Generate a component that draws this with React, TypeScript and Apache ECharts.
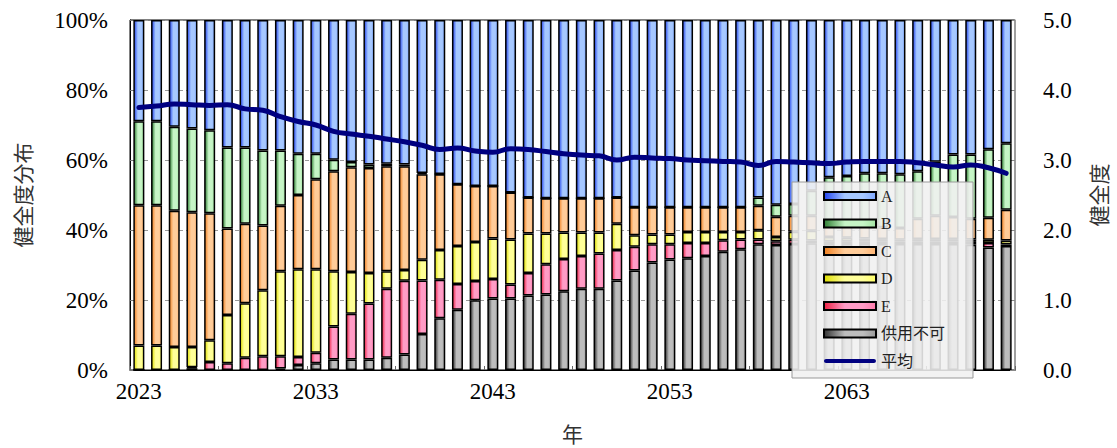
import React, { useEffect, useRef } from "react";
import * as echarts from "echarts";

const years: string[] = [];
for (let y = 2023; y <= 2072; y++) years.push(String(y));

const serUnusable = [0, 0, 0, 0.5, 0, 0, 0, 0, 0.4, 1.4, 1.9, 3.0, 3.0, 3.0, 3.5, 4.4, 10.3, 14.8, 17.2, 19.9, 20.4, 20.4, 21.3, 21.6, 22.5, 23.2, 23.2, 25.6, 28.4, 30.7, 31.6, 31.9, 32.6, 33.8, 34.5, 35.9, 35.7, 36.0, 36.2, 36.0, 36.0, 36.0, 36.0, 36.0, 36.0, 36.0, 36.0, 35.8, 35.0, 35.4];
const serE = [0, 0, 0, 0.3, 2.3, 1.9, 3.5, 3.9, 3.5, 2.3, 3.0, 9.4, 13.1, 16.0, 19.7, 21.1, 15.3, 11.0, 7.4, 5.5, 5.6, 4.0, 6.4, 8.6, 9.2, 9.4, 10.1, 8.7, 6.8, 5.2, 4.3, 4.4, 3.7, 3.3, 2.8, 1.4, 1.1, 1.2, 0.8, 0.8, 0.8, 0.8, 0.8, 0.7, 0.7, 0.7, 0.7, 0.8, 1.3, 0.5];
const serD = [7.0, 7.0, 6.6, 5.8, 6.2, 13.8, 15.6, 18.9, 24.3, 25.1, 23.9, 15.8, 11.9, 8.7, 5.0, 3.1, 5.9, 8.5, 10.8, 11.2, 11.6, 12.9, 11.3, 8.8, 7.6, 6.7, 6.0, 7.5, 3.3, 2.8, 2.8, 3.1, 3.1, 2.3, 2.1, 2.6, 1.2, 2.3, 2.8, 1.2, 1.0, 0.8, 0.6, 0.5, 0.7, 0.7, 0.7, 0.7, 0.9, 1.1];
const serC = [40.1, 40.1, 38.9, 38.5, 36.3, 24.7, 22.7, 18.5, 18.7, 21.2, 25.7, 28.6, 29.9, 30.0, 30.0, 29.6, 24.4, 21.6, 17.7, 16.0, 15.0, 13.4, 10.3, 10.1, 9.8, 9.8, 9.8, 7.5, 8.0, 7.8, 7.8, 7.1, 7.1, 7.1, 7.1, 7.0, 5.8, 4.6, 4.3, 3.3, 3.2, 3.4, 3.4, 3.4, 5.8, 6.7, 6.3, 5.9, 6.3, 8.8];
const serB = [24.0, 24.0, 24.0, 23.9, 23.7, 23.2, 21.8, 21.4, 15.8, 11.8, 7.3, 3.3, 1.5, 1.0, 0.7, 0.5, 0.4, 0.1, 0, 0, 0, 0, 0, 0, 0, 0, 0, 0, 0, 0, 0, 0, 0, 0, 0, 2.4, 3.4, 3.3, 7.1, 13.8, 14.4, 15.2, 15.4, 15.3, 13.6, 15.4, 17.9, 18.4, 19.6, 19.0];
const serA = [28.9, 28.9, 30.5, 31.0, 31.5, 36.4, 36.4, 37.3, 37.3, 38.2, 38.2, 39.9, 40.6, 41.3, 41.1, 41.3, 43.7, 44.0, 46.9, 47.4, 47.4, 49.3, 50.7, 50.9, 50.9, 50.9, 50.9, 50.7, 53.5, 53.5, 53.5, 53.5, 53.5, 53.5, 53.5, 50.7, 52.8, 52.6, 48.8, 44.9, 44.6, 43.8, 43.8, 44.1, 43.2, 40.5, 38.4, 38.4, 36.9, 35.2];
const serAvg = [3.75, 3.77, 3.80, 3.79, 3.78, 3.79, 3.73, 3.71, 3.62, 3.55, 3.50, 3.41, 3.37, 3.34, 3.30, 3.26, 3.21, 3.15, 3.17, 3.13, 3.11, 3.16, 3.15, 3.12, 3.09, 3.07, 3.06, 3.00, 3.04, 3.03, 3.02, 3.00, 2.99, 2.98, 2.97, 2.92, 2.98, 2.97, 2.96, 2.95, 2.97, 2.98, 2.98, 2.98, 2.96, 2.93, 2.90, 2.93, 2.89, 2.81];

const leftTicks = ["0%", "20%", "40%", "60%", "80%", "100%"];

const FONT = "'Liberation Serif', 'Noto Sans CJK JP', serif";
const CJK = "'Noto Sans CJK JP', sans-serif";

function grad(dark: string, light: string, mid: string) {
  return new echarts.graphic.LinearGradient(0, 0, 1, 0, [
    { offset: 0, color: dark },
    { offset: 0.4, color: light },
    { offset: 0.75, color: light },
    { offset: 1, color: mid },
  ]);
}

export default function App() {
  const ref = useRef<HTMLDivElement>(null);
  useEffect(() => {
    if (!ref.current) return;
    const chart = echarts.init(ref.current, undefined, { renderer: "svg" });
    const barBase = (name: string, data: number[], color: any) => ({
      name,
      type: "bar",
      stack: "dist",
      barWidth: 11,
      data,
      itemStyle: { color, borderColor: "#000", borderWidth: 1.5 },
      z: 2,
    });
    chart.setOption({
      animation: false,
      backgroundColor: "#fff",
      grid: { left: 130, right: 102, top: 20, bottom: 73, show: true, borderColor: "#000", borderWidth: 1, backgroundColor: "transparent" },
      legend: {
        orient: "vertical",
        left: 792,
        top: 182,
        padding: [6, 28, 9, 31],
        itemGap: 11.5,
        itemWidth: 52,
        itemHeight: 8,
        backgroundColor: "rgba(240,240,240,0.88)",
        borderColor: "#999",
        borderWidth: 1,
        textStyle: { fontFamily: FONT, fontSize: 16, lineHeight: 16, color: "#222" },
        data: [
          { name: "A", icon: "rect" },
          { name: "B", icon: "rect" },
          { name: "C", icon: "rect" },
          { name: "D", icon: "rect" },
          { name: "E", icon: "rect" },
          { name: "供用不可", icon: "rect" },
          {
            name: "平均",
            icon: "path://M4,0 L96,0 A4,4 0 0 1 96,8 L4,8 A4,4 0 0 1 4,0 Z",
            itemStyle: { color: "#000080", borderWidth: 0 },
          },
        ],
      },
      xAxis: {
        type: "category",
        data: years,
        boundaryGap: true,
        name: "年",
        nameLocation: "middle",
        nameGap: 52,
        nameTextStyle: { fontFamily: CJK, fontSize: 21, color: "#333" },
        axisLine: { lineStyle: { color: "#000", width: 1 } },
        axisTick: { show: true, inside: true, interval: 4, length: 4, lineStyle: { color: "#666" } },
        axisLabel: { interval: 9, fontFamily: FONT, fontSize: 23, color: "#000", margin: 10 },
      },
      yAxis: [
        {
          type: "value",
          min: 0,
          max: 100,
          interval: 20,
          name: "健全度分布",
          nameLocation: "middle",
          nameRotate: 90,
          nameGap: 98,
          nameTextStyle: { fontFamily: CJK, fontSize: 21, color: "#333" },
          axisLine: { show: true, lineStyle: { color: "#000", width: 1 } },
          axisTick: { show: true, inside: true, length: 5, lineStyle: { color: "#777" } },
          axisLabel: {
            fontFamily: FONT,
            fontSize: 23,
            color: "#000",
            margin: 22,
            formatter: (v: number) => leftTicks[Math.round(v / 20)],
          },
          splitLine: { show: true, lineStyle: { color: "#999", type: [4, 3], width: 1 } },
        },
        {
          type: "value",
          min: 0,
          max: 5,
          interval: 1,
          name: "健全度",
          nameLocation: "middle",
          nameRotate: 90,
          nameGap: 72,
          nameTextStyle: { fontFamily: CJK, fontSize: 21, color: "#333" },
          axisLine: { show: true, lineStyle: { color: "#aaa", width: 1.5 } },
          axisTick: { show: true, inside: true, length: 5, lineStyle: { color: "#888" } },
          axisLabel: {
            fontFamily: FONT,
            fontSize: 23,
            color: "#000",
            margin: 28,
            formatter: (v: number) => v.toFixed(1),
          },
          splitLine: { show: false },
        },
      ],
      series: [
        barBase("供用不可", serUnusable, grad("#333333", "#bdbdbd", "#9a9a9a")),
        barBase("E", serE, grad("#ee2244", "#ff9cc6", "#ff7aab")),
        barBase("D", serD, grad("#dede00", "#ffff99", "#ffff66")),
        barBase("C", serC, grad("#f08020", "#ffcc99", "#ffb472")),
        barBase("B", serB, grad("#2e7d32", "#c6f5c6", "#a4e4a4")),
        barBase("A", serA, grad("#2244ee", "#a6c8ff", "#7fa8ff")),
        {
          name: "平均",
          type: "line",
          yAxisIndex: 1,
          data: serAvg,
          smooth: true,
          symbol: "none",
          showSymbol: false,
          lineStyle: { color: "#000080", width: 5, cap: "round" },
          itemStyle: { color: "#000080" },
          z: 5,
        },
      ],
    });
    return () => chart.dispose();
  }, []);
  return <div ref={ref} style={{ width: 1117, height: 448, position: "absolute", left: 0, top: 0 }} />;
}
